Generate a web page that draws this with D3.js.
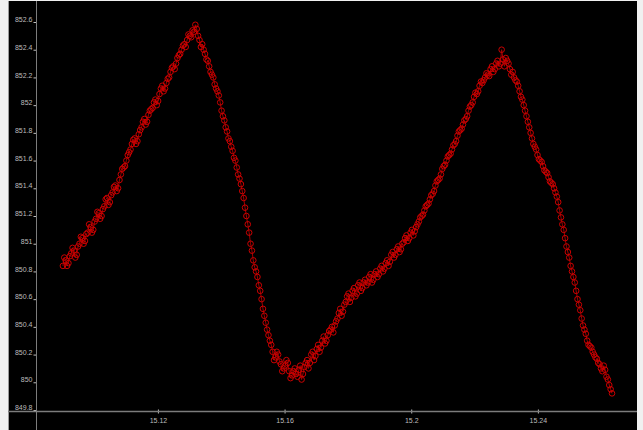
<!DOCTYPE html>
<html><head><meta charset="utf-8">
<script src="https://cdn.jsdelivr.net/npm/d3@7"></script>
<style>html,body{margin:0;padding:0;background:#fff;}svg{display:block;}</style>
</head><body>
<svg id="chart" width="643" height="430"></svg>
<script>
// ---- data ----
const startTime = 15.0900;
const timeStep = 0.0004357;
const values = [
850.84,850.90,850.88,850.84,850.86,850.91,850.93,850.97,850.95,850.90,
850.92,850.98,851.00,851.05,851.04,851.00,851.02,851.07,851.08,851.14,
851.12,851.08,851.10,851.16,851.18,851.23,851.22,851.18,851.20,851.25,
851.27,851.32,851.33,851.28,851.30,851.35,851.37,851.41,851.42,851.38,
851.40,851.46,851.50,851.54,851.55,851.56,851.60,851.64,851.66,851.68,
851.72,851.75,851.76,851.72,851.74,851.79,851.82,851.84,851.88,851.90,
851.86,851.88,851.93,851.96,851.97,851.98,852.02,852.04,852.00,852.03,
852.08,852.12,852.14,852.10,852.12,852.16,852.19,852.20,852.24,852.27,
852.28,852.26,852.30,852.34,852.36,852.37,852.40,852.43,852.44,852.42,
852.47,852.51,852.50,852.49,852.54,852.53,852.58,852.55,852.50,852.47,
852.42,852.44,852.40,852.37,852.33,852.32,852.28,852.24,852.22,852.20,
852.15,852.12,852.10,852.07,852.02,851.96,851.92,851.89,851.84,851.81,
851.76,851.74,851.70,851.67,851.62,851.60,851.55,851.50,851.47,851.43,
851.38,851.33,851.26,851.20,851.14,851.08,851.00,850.95,850.88,850.83,
850.80,850.76,850.70,850.66,850.60,850.53,850.48,850.43,850.38,850.34,
850.30,850.27,850.22,850.16,850.18,850.22,850.20,850.15,850.13,850.08,
850.10,850.12,850.16,850.14,850.08,850.03,850.05,850.08,850.10,850.06,
850.04,850.09,850.12,850.02,850.06,850.11,850.14,850.16,850.10,850.14,
850.20,850.22,850.16,850.19,850.24,850.27,850.22,850.25,850.30,850.33,
850.28,850.30,850.34,850.37,850.38,850.40,850.36,850.41,850.44,850.46,
850.50,850.53,850.48,850.51,850.56,850.58,850.62,850.64,850.58,850.61,
850.66,850.68,850.62,850.64,850.70,850.72,850.66,850.68,850.72,850.74,
850.70,850.72,850.76,850.78,850.72,850.74,850.78,850.80,850.76,850.78,
850.82,850.84,850.80,850.82,850.86,850.88,850.84,850.87,850.92,850.94,
850.90,850.92,850.96,850.98,850.94,850.96,851.00,851.01,851.04,851.06,
851.02,851.04,851.08,851.10,851.06,851.09,851.12,851.14,851.16,851.19,
851.20,851.21,851.24,851.27,851.28,851.29,851.32,851.35,851.36,851.38,
851.42,851.45,851.46,851.47,851.50,851.54,851.56,851.57,851.60,851.63,
851.64,851.65,851.68,851.71,851.72,851.74,851.78,851.81,851.82,851.83,
851.86,851.89,851.90,851.92,851.96,851.99,852.00,852.02,852.06,852.09,
852.08,852.10,852.14,852.17,852.16,852.18,852.20,852.23,852.22,852.21,
852.26,852.28,852.24,852.26,852.30,852.32,852.28,852.30,852.40,852.33,
852.28,852.34,852.32,852.30,852.26,852.22,852.24,852.20,852.18,852.17,
852.14,852.10,852.06,852.04,852.00,851.96,851.92,851.88,851.84,851.80,
851.76,851.72,851.70,851.68,851.64,851.61,851.60,851.59,851.56,851.53,
851.52,851.51,851.48,851.45,851.44,851.43,851.40,851.37,851.34,851.30,
851.24,851.19,851.14,851.10,851.04,850.98,850.94,850.90,850.84,850.80,
850.76,850.72,850.66,850.60,850.56,850.52,850.46,850.41,850.38,850.35,
850.30,850.27,850.26,850.25,850.22,850.20,850.18,850.17,850.14,850.13,
850.10,850.08,850.12,850.09,850.04,850.02,849.98,849.95,849.92
];
const yTicks = [852.6,852.4,852.2,852,851.8,851.6,851.4,851.2,851,850.8,850.6,850.4,850.2,850,849.8];
const yTickLabels = ["852.6","852.4","852.2","852","851.8","851.6","851.4","851.2","851","850.8","850.6","850.4","850.2","850","849.8"];
const xTicks = [15.12,15.16,15.20,15.24];
const xTickLabels = ["15.12","15.16","15.2","15.24"];

const points = values.map((v,i)=>({t: startTime + i*timeStep, v}));

// ---- layout ----
const svg = d3.select("#chart");
const W = 643, H = 430;
const panel = {x0: 8, x1: 637, y0: 1, y1: 430};
const plot = {left: 36, right: 637, top: 1, bottom: 411};

const x = d3.scaleLinear().domain([15.0815, 15.2713]).range([plot.left, plot.right]);
const y = d3.scaleLinear().domain([849.8, 852.6]).range([410, 22]);

svg.append("rect").attr("width", W).attr("height", H).attr("fill", "#f0f0f0");
svg.append("rect").attr("x", panel.x0).attr("y", panel.y0)
  .attr("width", panel.x1 - panel.x0).attr("height", panel.y1 - panel.y0).attr("fill", "#000");

const gridCol = "#7c7c7c";
svg.append("line").attr("x1", panel.x0 + 0.5).attr("x2", panel.x0 + 0.5)
  .attr("y1", panel.y0).attr("y2", H).attr("stroke", "#9a9a9a");

// y axis
const yAxis = d3.axisLeft(y).tickValues(yTicks).tickSize(3)
  .tickFormat((d,i)=>yTickLabels[i]);
const gy = svg.append("g").attr("transform", `translate(${plot.left + 0.5},0)`).call(yAxis);
gy.select(".domain").remove();
gy.selectAll(".tick line").attr("stroke", "#bdbdbd");
gy.selectAll(".tick text").attr("fill", "#bcbcbc").attr("font-size", 7)
  .attr("font-family", "Liberation Sans, Arial, sans-serif").attr("x", -4).attr("dy", "-0.05em");
svg.append("line").attr("x1", plot.left + 0.5).attr("x2", plot.left + 0.5)
  .attr("y1", panel.y0).attr("y2", H).attr("stroke", gridCol);

// x axis
const xAxis = d3.axisBottom(x).tickValues(xTicks).tickSize(2)
  .tickFormat((d,i)=>xTickLabels[i]);
const gx = svg.append("g").attr("transform", `translate(0,${plot.bottom + 0.5})`).call(xAxis);
gx.select(".domain").remove();
gx.selectAll(".tick line").attr("stroke", "#bdbdbd").attr("y1", -2).attr("y2", 2);
gx.selectAll(".tick text").attr("fill", "#bcbcbc").attr("font-size", 7)
  .attr("font-family", "Liberation Sans, Arial, sans-serif").attr("y", 7);
svg.append("line").attr("x1", panel.x0).attr("x2", panel.x1)
  .attr("y1", plot.bottom + 0.5).attr("y2", plot.bottom + 0.5).attr("stroke", gridCol).attr("stroke-width", 1.5);

// series
const line = d3.line().x(d=>x(d.t)).y(d=>y(d.v));
svg.append("path").datum(points).attr("d", line)
  .attr("fill", "none").attr("stroke", "#a00000").attr("stroke-width", 1);
svg.append("g").selectAll("circle").data(points).join("circle")
  .attr("cx", d=>x(d.t)).attr("cy", d=>y(d.v)).attr("r", 2.8)
  .attr("fill", "none").attr("stroke", "#cc0000").attr("stroke-width", 1);
</script>
</body></html>
